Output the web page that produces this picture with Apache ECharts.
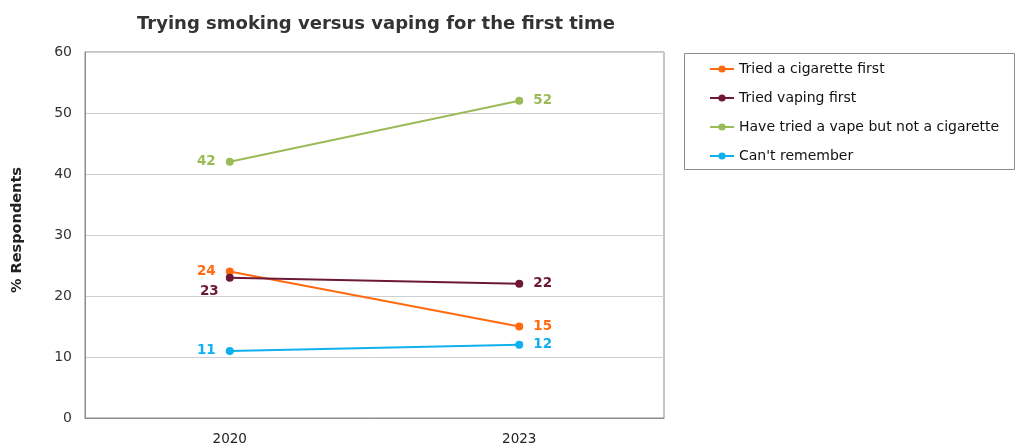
<!DOCTYPE html>
<html>
<head>
<meta charset="utf-8">
<script src="https://cdn.jsdelivr.net/npm/echarts@6/dist/echarts.min.js"></script>
<style>
  html, body { margin: 0; padding: 0; background: #fff; }
  #chart { width: 1016px; height: 446px; }
</style>
</head>
<body>
<div id="chart"></div>
<script>
// Survey years and shares of respondents (%)
const years = ['2020', '2023'];
const cigaretteFirst = [24, 15];
const vapingFirst = [23, 22];
const vapeNotCigarette = [42, 52];
const cantRemember = [11, 12];
const yTicks = { min: 0, max: 60, step: 10 };

const FONT = '"DejaVu Sans", Verdana, sans-serif';

function lineSeries(name, data, color, labelSides) {
  return {
    name: name,
    type: 'line',
    data: data.map((v, i) => ({
      value: v,
      label: labelSides[i]
    })),
    color: color,
    symbol: 'circle',
    symbolSize: 8,
    lineStyle: { width: 2, color: color },
    itemStyle: { color: color },
    label: {
      show: true,
      color: color,
      fontFamily: FONT,
      fontWeight: 'bold',
      fontSize: 13.5,
      distance: 10
    }
  };
}

const L = { position: 'left' };
const R = { position: 'right', distance: 10 };

const chart = echarts.init(document.getElementById('chart'));
chart.setOption({
  animation: false,
  title: {
    text: 'Trying smoking versus vaping for the first time',
    left: 371,
    textAlign: 'center',
    top: 10,
    textStyle: { fontFamily: FONT, fontWeight: 'bold', fontSize: 18, color: '#333' }
  },
  grid: {
    left: 85, top: 52, width: 579, height: 370,
    show: true, borderColor: '#8c8c8c', borderWidth: 1
  },
  legend: {
    orient: 'vertical',
    left: 709, top: 62,
    padding: 0,
    itemWidth: 24, itemHeight: 9,
    itemGap: 15,
    textStyle: { fontFamily: FONT, fontSize: 14, lineHeight: 14, color: '#111' }
  },
  graphic: [{
    type: 'rect',
    shape: { x: 684.5, y: 53.5, width: 330, height: 116 },
    style: { fill: 'none', stroke: '#8c8c8c', lineWidth: 1 },
    silent: true
  }],
  xAxis: {
    type: 'category',
    data: years,
    boundaryGap: true,
    axisLine: { lineStyle: { color: '#8c8c8c' } },
    axisTick: { show: false },
    axisLabel: { fontFamily: FONT, fontSize: 13.5, color: '#222', margin: 14 }
  },
  yAxis: {
    type: 'value',
    min: yTicks.min, max: yTicks.max, interval: yTicks.step,
    name: '% Respondents',
    nameLocation: 'middle',
    nameGap: 60,
    nameTextStyle: { fontFamily: FONT, fontWeight: 'bold', fontSize: 14.5, color: '#222', padding: [0, 0, 0, 10] },
    axisLine: { show: true, lineStyle: { color: '#8c8c8c' } },
    axisTick: { show: false },
    splitLine: { lineStyle: { color: '#cfcfcf' } },
    axisLabel: { fontFamily: FONT, fontSize: 14, color: '#333', margin: 13 }
  },
  series: [
    lineSeries('Tried a cigarette first', cigaretteFirst, '#ff6a10', [L, R]),
    lineSeries('Tried vaping first', vapingFirst, '#6e1838', [{ position: 'left', offset: [3, 14] }, R]),
    lineSeries('Have tried a vape but not a cigarette', vapeNotCigarette, '#9bbb59', [L, R]),
    lineSeries("Can't remember", cantRemember, '#0eb0ee', [L, R])
  ]
});
</script>
</body>
</html>
